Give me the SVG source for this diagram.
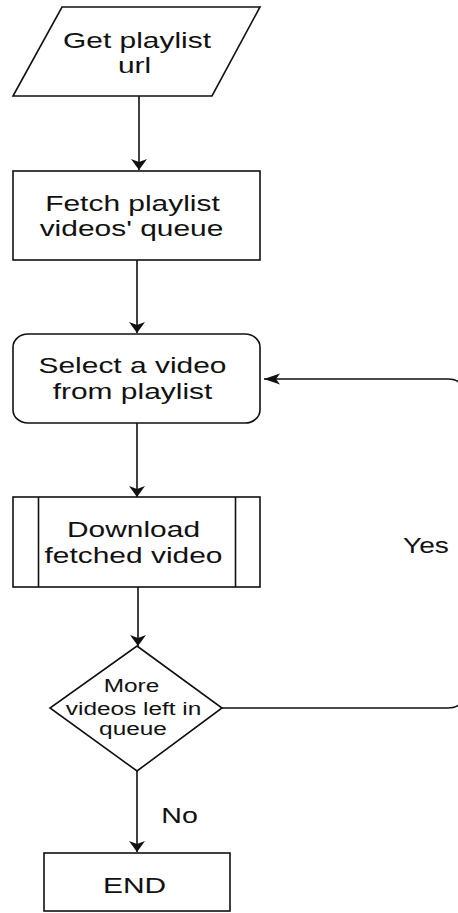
<svg xmlns="http://www.w3.org/2000/svg" width="458" height="913" viewBox="0 0 458 913">
<style>
.shape{fill:#fff;stroke:#111;stroke-width:1.6}
.edge{fill:none;stroke:#111;stroke-width:1.6}
text{font-family:"Liberation Sans",Arial,sans-serif;fill:#111;font-size:22.5px;text-anchor:middle}
.small{font-size:17.8px}
</style>
<defs>
<marker id="arrV" markerUnits="userSpaceOnUse" viewBox="0 0 12 18" markerWidth="12" markerHeight="18" refX="11" refY="9" orient="auto">
<path d="M0,1 L11,9 L0,17 L3,9 Z" fill="#111"/>
</marker>
<marker id="arrH" markerUnits="userSpaceOnUse" viewBox="0 0 17 12" markerWidth="17" markerHeight="12" refX="16" refY="6" orient="auto">
<path d="M0,0.5 L16,6 L0,11.5 L4,6 Z" fill="#111"/>
</marker>
</defs>
<rect width="458" height="913" fill="#fff"/>
<g id="connectors">
<path class="edge" d="M139,96 L139,170" marker-end="url(#arrV)"/>
<path class="edge" d="M137,260 L137,333" marker-end="url(#arrV)"/>
<path class="edge" d="M137,423 L137,497" marker-end="url(#arrV)"/>
<path class="edge" d="M138,587 L138,646" marker-end="url(#arrV)"/>
<path class="edge" d="M137,771 L137,852" marker-end="url(#arrV)"/>
<path class="edge" d="M222,708 L448,708 Q463,708 463,694 L463,393 Q463,379 448,379 L264,379" marker-end="url(#arrH)"/>
<text transform="translate(426,553) scale(1.25,1)">Yes</text>
<text transform="translate(179.5,823) scale(1.27,1)">No</text>
</g>
<g id="get-url">
<polygon class="shape" points="62,7 260,7 212,96 13,96"/>
<text transform="translate(137,48) scale(1.33,1)">Get playlist</text>
<text transform="translate(134.5,73) scale(1.33,1)">url</text>
</g>
<g id="fetch-queue">
<rect class="shape" x="13" y="171" width="247" height="89"/>
<text transform="translate(132.5,211) scale(1.33,1)">Fetch playlist</text>
<text transform="translate(131.5,236) scale(1.33,1)">videos' queue</text>
</g>
<g id="select-video">
<rect class="shape" x="13" y="334" width="247" height="89" rx="15" ry="13"/>
<text transform="translate(132.5,373) scale(1.33,1)">Select a video</text>
<text transform="translate(132.5,399) scale(1.33,1)">from playlist</text>
</g>
<g id="download-video">
<rect class="shape" x="13" y="497" width="247" height="90"/>
<line class="edge" x1="38.5" y1="497" x2="38.5" y2="587"/>
<line class="edge" x1="235.5" y1="497" x2="235.5" y2="587"/>
<text transform="translate(133.5,537) scale(1.33,1)">Download</text>
<text transform="translate(133.5,563) scale(1.33,1)">fetched video</text>
</g>
<g id="more-videos">
<polygon class="shape" points="137,646 222,708 137,771 50,708"/>
<text class="small" transform="translate(131.5,692) scale(1.37,1)">More</text>
<text class="small" transform="translate(133.5,715) scale(1.37,1)">videos left in</text>
<text class="small" transform="translate(133,735) scale(1.37,1)">queue</text>
</g>
<g id="end">
<rect class="shape" x="44" y="853" width="186" height="58"/>
<text transform="translate(134.5,893) scale(1.33,1)">END</text>
</g>
</svg>
